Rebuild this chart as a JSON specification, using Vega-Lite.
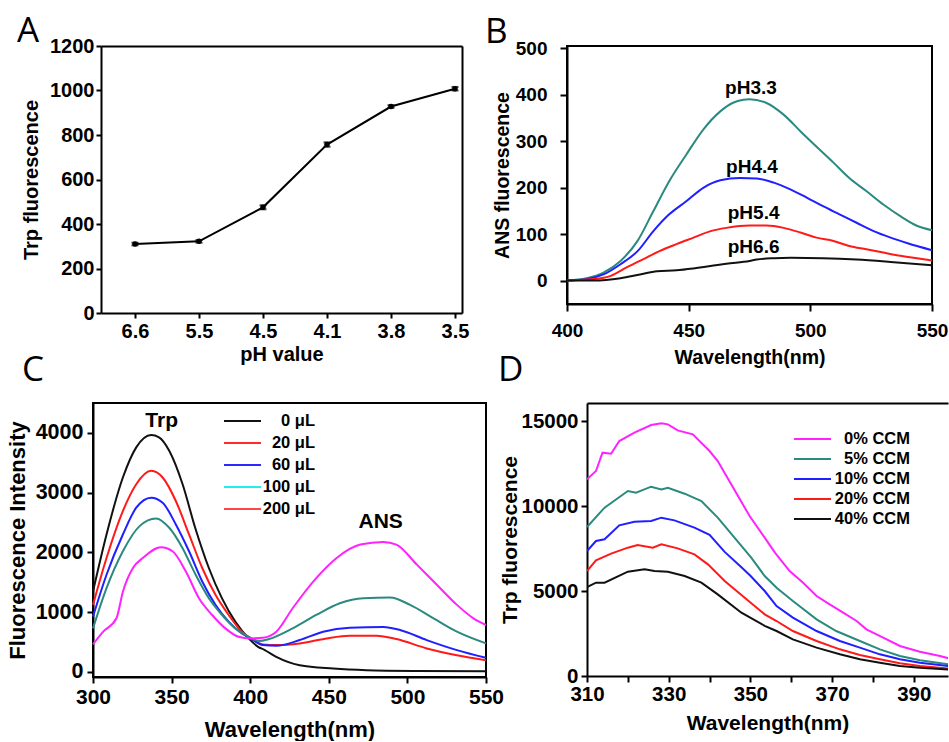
{
  "$schema": "https://vega.github.io/schema/vega-lite/v6.json",
  "background": "white",
  "padding": {"left": 5, "top": 13, "right": 0, "bottom": 0},
  "config": {
    "font": "Liberation Sans",
    "view": {"stroke": "black", "strokeWidth": 2},
    "axis": {"grid": false, "domainColor": "black", "domainWidth": 2, "tickColor": "black", "tickWidth": 2, "labelColor": "black", "titleColor": "black", "labelFontWeight": "bold", "titleFontWeight": "bold", "labelFont": "Liberation Sans", "titleFont": "Liberation Sans", "labelFlush": false, "labelOverlap": false},
    "legend": {"padding": 0, "titlePadding": 0},
    "title": {"font": "Open Sans", "fontSize": 35, "fontWeight": "normal", "anchor": "start", "frame": "group", "baseline": "alphabetic", "color": "black"},
    "text": {"font": "Liberation Sans"}
  },
  "datasets": {
    "aData": [
      {"pH": "6.6", "pos": 0, "trp": 310, "err": 6},
      {"pH": "5.5", "pos": 1, "trp": 322, "err": 6},
      {"pH": "4.5", "pos": 2, "trp": 475, "err": 9},
      {"pH": "4.1", "pos": 3, "trp": 757, "err": 10},
      {"pH": "3.8", "pos": 4, "trp": 928, "err": 6},
      {"pH": "3.5", "pos": 5, "trp": 1008, "err": 8}
    ],
    "bData": [
      {"s":"pH3.3","w":400,"v":1},{"s":"pH3.3","w":408,"v":6},{"s":"pH3.3","w":415,"v":18},{"s":"pH3.3","w":422,"v":43},{"s":"pH3.3","w":429,"v":86},{"s":"pH3.3","w":435.5,"v":150},{"s":"pH3.3","w":442,"v":214},{"s":"pH3.3","w":449,"v":271},{"s":"pH3.3","w":456,"v":325},{"s":"pH3.3","w":463,"v":364},{"s":"pH3.3","w":468,"v":382},{"s":"pH3.3","w":472.5,"v":389},{"s":"pH3.3","w":475,"v":390},{"s":"pH3.3","w":482,"v":382},{"s":"pH3.3","w":489,"v":357},{"s":"pH3.3","w":496,"v":321},{"s":"pH3.3","w":503,"v":286},{"s":"pH3.3","w":509.5,"v":254},{"s":"pH3.3","w":516,"v":221},{"s":"pH3.3","w":523,"v":193},{"s":"pH3.3","w":530,"v":164},{"s":"pH3.3","w":537,"v":139},{"s":"pH3.3","w":544,"v":118},{"s":"pH3.3","w":550,"v":109},
      {"s":"pH4.4","w":400,"v":1},{"s":"pH4.4","w":408,"v":4},{"s":"pH4.4","w":415,"v":14},{"s":"pH4.4","w":422,"v":36},{"s":"pH4.4","w":429,"v":64},{"s":"pH4.4","w":435.5,"v":107},{"s":"pH4.4","w":442,"v":143},{"s":"pH4.4","w":449,"v":171},{"s":"pH4.4","w":456,"v":200},{"s":"pH4.4","w":463,"v":216},{"s":"pH4.4","w":471,"v":221},{"s":"pH4.4","w":478,"v":220},{"s":"pH4.4","w":485,"v":211},{"s":"pH4.4","w":492,"v":196},{"s":"pH4.4","w":498.5,"v":179},{"s":"pH4.4","w":505,"v":161},{"s":"pH4.4","w":512,"v":143},{"s":"pH4.4","w":519,"v":125},{"s":"pH4.4","w":526,"v":107},{"s":"pH4.4","w":533,"v":93},{"s":"pH4.4","w":540,"v":81},{"s":"pH4.4","w":550,"v":66},
      {"s":"pH5.4","w":400,"v":1},{"s":"pH5.4","w":411,"v":4},{"s":"pH5.4","w":418,"v":11},{"s":"pH5.4","w":424.5,"v":29},{"s":"pH5.4","w":431,"v":46},{"s":"pH5.4","w":438,"v":64},{"s":"pH5.4","w":445,"v":79},{"s":"pH5.4","w":452,"v":93},{"s":"pH5.4","w":459,"v":107},{"s":"pH5.4","w":465.5,"v":114},{"s":"pH5.4","w":475,"v":119},{"s":"pH5.4","w":482,"v":119},{"s":"pH5.4","w":489,"v":114},{"s":"pH5.4","w":496,"v":104},{"s":"pH5.4","w":502.5,"v":93},{"s":"pH5.4","w":509.5,"v":86},{"s":"pH5.4","w":516,"v":75},{"s":"pH5.4","w":523,"v":68},{"s":"pH5.4","w":530,"v":61},{"s":"pH5.4","w":537,"v":54},{"s":"pH5.4","w":550,"v":44},
      {"s":"pH6.6","w":400,"v":1},{"s":"pH6.6","w":411,"v":1},{"s":"pH6.6","w":422,"v":6},{"s":"pH6.6","w":430,"v":14},{"s":"pH6.6","w":437,"v":21},{"s":"pH6.6","w":445,"v":23},{"s":"pH6.6","w":452,"v":27},{"s":"pH6.6","w":459,"v":32},{"s":"pH6.6","w":465.5,"v":37},{"s":"pH6.6","w":475,"v":43},{"s":"pH6.6","w":478,"v":46},{"s":"pH6.6","w":485,"v":49},{"s":"pH6.6","w":492,"v":50},{"s":"pH6.6","w":505,"v":49},{"s":"pH6.6","w":519,"v":46},{"s":"pH6.6","w":533,"v":41},{"s":"pH6.6","w":550,"v":34}
    ],
    "bLabels": [
      {"s":"pH3.3","w":475.6,"v":414},{"s":"pH4.4","w":476,"v":245},{"s":"pH5.4","w":476.7,"v":146},{"s":"pH6.6","w":476.7,"v":73}
    ],
    "cData": [
      {"s":"0 μL","w":300,"v":1346},{"s":"0 μL","w":308.6,"v":2300},{"s":"0 μL","w":319,"v":3253},{"s":"0 μL","w":327.5,"v":3758},{"s":"0 μL","w":337,"v":3965},{"s":"0 μL","w":342,"v":3926},{"s":"0 μL","w":348.5,"v":3702},{"s":"0 μL","w":357,"v":3141},{"s":"0 μL","w":365,"v":2412},{"s":"0 μL","w":373.7,"v":1739},{"s":"0 μL","w":382,"v":1234},{"s":"0 μL","w":390.5,"v":841},{"s":"0 μL","w":399,"v":561},{"s":"0 μL","w":405,"v":420},{"s":"0 μL","w":409,"v":370},{"s":"0 μL","w":416.6,"v":252},{"s":"0 μL","w":431.5,"v":112},{"s":"0 μL","w":452.8,"v":56},{"s":"0 μL","w":474,"v":28},{"s":"0 μL","w":506,"v":15},{"s":"0 μL","w":550,"v":10},
      {"s":"20 μL","w":300,"v":1122},{"s":"20 μL","w":308.6,"v":1907},{"s":"20 μL","w":319,"v":2692},{"s":"20 μL","w":327.5,"v":3141},{"s":"20 μL","w":337,"v":3365},{"s":"20 μL","w":344.3,"v":3253},{"s":"20 μL","w":352.7,"v":2860},{"s":"20 μL","w":361.1,"v":2300},{"s":"20 μL","w":369.5,"v":1739},{"s":"20 μL","w":377.9,"v":1290},{"s":"20 μL","w":386.3,"v":953},{"s":"20 μL","w":394.7,"v":673},{"s":"20 μL","w":401,"v":550},{"s":"20 μL","w":408,"v":460},{"s":"20 μL","w":416.6,"v":449},{"s":"20 μL","w":431.5,"v":477},{"s":"20 μL","w":448.5,"v":561},{"s":"20 μL","w":463.4,"v":606},{"s":"20 μL","w":480.4,"v":606},{"s":"20 μL","w":493,"v":550},{"s":"20 μL","w":512.3,"v":393},{"s":"20 μL","w":531.5,"v":280},{"s":"20 μL","w":550,"v":196},
      {"s":"60 μL","w":300,"v":925},{"s":"60 μL","w":308.6,"v":1626},{"s":"60 μL","w":319,"v":2300},{"s":"60 μL","w":327.5,"v":2748},{"s":"60 μL","w":337,"v":2916},{"s":"60 μL","w":344.3,"v":2832},{"s":"60 μL","w":352.7,"v":2468},{"s":"60 μL","w":361.1,"v":2019},{"s":"60 μL","w":369.5,"v":1514},{"s":"60 μL","w":377.9,"v":1122},{"s":"60 μL","w":386.3,"v":841},{"s":"60 μL","w":394.7,"v":645},{"s":"60 μL","w":401,"v":550},{"s":"60 μL","w":408,"v":449},{"s":"60 μL","w":416.6,"v":437},{"s":"60 μL","w":431.5,"v":533},{"s":"60 μL","w":446.4,"v":673},{"s":"60 μL","w":463.4,"v":740},{"s":"60 μL","w":484.7,"v":752},{"s":"60 μL","w":495.3,"v":701},{"s":"60 μL","w":512.3,"v":533},{"s":"60 μL","w":531.5,"v":365},{"s":"60 μL","w":550,"v":236},
      {"s":"100 μL","w":300,"v":729},{"s":"100 μL","w":308.6,"v":1402},{"s":"100 μL","w":319,"v":2019},{"s":"100 μL","w":329.6,"v":2440},{"s":"100 μL","w":340.1,"v":2569},{"s":"100 μL","w":348.5,"v":2412},{"s":"100 μL","w":356.9,"v":2075},{"s":"100 μL","w":365.3,"v":1626},{"s":"100 μL","w":373.7,"v":1234},{"s":"100 μL","w":382.1,"v":953},{"s":"100 μL","w":390.5,"v":729},{"s":"100 μL","w":398.9,"v":589},{"s":"100 μL","w":401,"v":560},{"s":"100 μL","w":406,"v":516},{"s":"100 μL","w":412,"v":550},{"s":"100 μL","w":427,"v":729},{"s":"100 μL","w":442,"v":953},{"s":"100 μL","w":457,"v":1150},{"s":"100 μL","w":472,"v":1234},{"s":"100 μL","w":489,"v":1245},{"s":"100 μL","w":501.7,"v":1122},{"s":"100 μL","w":516.6,"v":897},{"s":"100 μL","w":531.5,"v":673},{"s":"100 μL","w":550,"v":477},
      {"s":"200 μL","w":300,"v":460},{"s":"200 μL","w":306.5,"v":673},{"s":"200 μL","w":314.9,"v":897},{"s":"200 μL","w":319.1,"v":1350},{"s":"200 μL","w":325.4,"v":1740},{"s":"200 μL","w":331.7,"v":1907},{"s":"200 μL","w":343.3,"v":2086},{"s":"200 μL","w":350.6,"v":2019},{"s":"200 μL","w":359,"v":1683},{"s":"200 μL","w":367.4,"v":1234},{"s":"200 μL","w":375.8,"v":953},{"s":"200 μL","w":384.2,"v":729},{"s":"200 μL","w":392.6,"v":589},{"s":"200 μL","w":400,"v":561},{"s":"200 μL","w":408,"v":572},{"s":"200 μL","w":416.6,"v":673},{"s":"200 μL","w":427,"v":1066},{"s":"200 μL","w":442,"v":1570},{"s":"200 μL","w":455,"v":1907},{"s":"200 μL","w":470,"v":2131},{"s":"200 μL","w":484.7,"v":2176},{"s":"200 μL","w":493,"v":2131},{"s":"200 μL","w":506,"v":1795},{"s":"200 μL","w":518.7,"v":1458},{"s":"200 μL","w":531.5,"v":1122},{"s":"200 μL","w":542,"v":897},{"s":"200 μL","w":550,"v":785}
    ],
    "cLabels": [
      {"t":"Trp","w":343.7,"v":4197},{"t":"ANS","w":483,"v":2513}
    ],
    "dData": [
      {"s":"0% CCM","w":310,"v":11569},{"s":"0% CCM","w":312.2,"v":12059},{"s":"0% CCM","w":313.8,"v":13137},{"s":"0% CCM","w":315.9,"v":13078},{"s":"0% CCM","w":317.9,"v":13824},{"s":"0% CCM","w":321.6,"v":14314},{"s":"0% CCM","w":325.7,"v":14765},{"s":"0% CCM","w":328.2,"v":14863},{"s":"0% CCM","w":329.8,"v":14804},{"s":"0% CCM","w":332.2,"v":14451},{"s":"0% CCM","w":335.9,"v":14216},{"s":"0% CCM","w":340,"v":13235},{"s":"0% CCM","w":342,"v":12647},{"s":"0% CCM","w":345.3,"v":11275},{"s":"0% CCM","w":349.8,"v":9412},{"s":"0% CCM","w":353.5,"v":8137},{"s":"0% CCM","w":356,"v":7255},{"s":"0% CCM","w":359.6,"v":6176},{"s":"0% CCM","w":362.9,"v":5490},{"s":"0% CCM","w":366.2,"v":4706},{"s":"0% CCM","w":369.4,"v":4216},{"s":"0% CCM","w":372.7,"v":3725},{"s":"0% CCM","w":376,"v":3235},{"s":"0% CCM","w":378.4,"v":2745},{"s":"0% CCM","w":382.5,"v":2255},{"s":"0% CCM","w":386.6,"v":1765},{"s":"0% CCM","w":391.5,"v":1431},{"s":"0% CCM","w":396.4,"v":1176},{"s":"0% CCM","w":398.6,"v":1039},
      {"s":"5% CCM","w":310,"v":8765},{"s":"5% CCM","w":314.3,"v":9902},{"s":"5% CCM","w":320,"v":10882},{"s":"5% CCM","w":322,"v":10784},{"s":"5% CCM","w":325.7,"v":11137},{"s":"5% CCM","w":328.2,"v":10980},{"s":"5% CCM","w":329.8,"v":11078},{"s":"5% CCM","w":333.9,"v":10725},{"s":"5% CCM","w":338,"v":10294},{"s":"5% CCM","w":342,"v":9314},{"s":"5% CCM","w":346.1,"v":8137},{"s":"5% CCM","w":350.2,"v":6961},{"s":"5% CCM","w":353.5,"v":5882},{"s":"5% CCM","w":356.4,"v":5196},{"s":"5% CCM","w":360.4,"v":4412},{"s":"5% CCM","w":366.2,"v":3333},{"s":"5% CCM","w":371,"v":2647},{"s":"5% CCM","w":376.8,"v":2059},{"s":"5% CCM","w":381.7,"v":1569},{"s":"5% CCM","w":386.6,"v":1176},{"s":"5% CCM","w":391.5,"v":922},{"s":"5% CCM","w":398.6,"v":686},
      {"s":"10% CCM","w":310,"v":7353},{"s":"10% CCM","w":312.2,"v":7941},{"s":"10% CCM","w":314.3,"v":8039},{"s":"10% CCM","w":317.9,"v":8863},{"s":"10% CCM","w":321.6,"v":9078},{"s":"10% CCM","w":325.7,"v":9118},{"s":"10% CCM","w":328.2,"v":9314},{"s":"10% CCM","w":331.4,"v":9157},{"s":"10% CCM","w":336.3,"v":8725},{"s":"10% CCM","w":340,"v":8300},{"s":"10% CCM","w":343.7,"v":7300},{"s":"10% CCM","w":347.8,"v":6400},{"s":"10% CCM","w":350,"v":5900},{"s":"10% CCM","w":353.5,"v":5000},{"s":"10% CCM","w":356.4,"v":4118},{"s":"10% CCM","w":360.4,"v":3431},{"s":"10% CCM","w":366.2,"v":2647},{"s":"10% CCM","w":371.9,"v":2059},{"s":"10% CCM","w":376.8,"v":1667},{"s":"10% CCM","w":381.7,"v":1275},{"s":"10% CCM","w":386.6,"v":980},{"s":"10% CCM","w":391.5,"v":784},{"s":"10% CCM","w":398.6,"v":588},
      {"s":"20% CCM","w":310,"v":6176},{"s":"20% CCM","w":312.2,"v":6804},{"s":"20% CCM","w":315.9,"v":7196},{"s":"20% CCM","w":320,"v":7549},{"s":"20% CCM","w":322.4,"v":7706},{"s":"20% CCM","w":326.1,"v":7549},{"s":"20% CCM","w":328.2,"v":7745},{"s":"20% CCM","w":332.2,"v":7510},{"s":"20% CCM","w":336.3,"v":7157},{"s":"20% CCM","w":339.6,"v":6569},{"s":"20% CCM","w":343.7,"v":5588},{"s":"20% CCM","w":348.6,"v":4600},{"s":"20% CCM","w":353.5,"v":3627},{"s":"20% CCM","w":356.4,"v":3235},{"s":"20% CCM","w":360.4,"v":2647},{"s":"20% CCM","w":366.2,"v":2059},{"s":"20% CCM","w":371.9,"v":1569},{"s":"20% CCM","w":376.8,"v":1235},{"s":"20% CCM","w":381.7,"v":980},{"s":"20% CCM","w":386.6,"v":745},{"s":"20% CCM","w":391.5,"v":588},{"s":"20% CCM","w":398.6,"v":431},
      {"s":"40% CCM","w":310,"v":5235},{"s":"40% CCM","w":312.2,"v":5490},{"s":"40% CCM","w":314.3,"v":5490},{"s":"40% CCM","w":320,"v":6137},{"s":"40% CCM","w":324.1,"v":6275},{"s":"40% CCM","w":326.5,"v":6176},{"s":"40% CCM","w":329.8,"v":6137},{"s":"40% CCM","w":333.9,"v":5882},{"s":"40% CCM","w":338,"v":5490},{"s":"40% CCM","w":342,"v":4804},{"s":"40% CCM","w":347.8,"v":3725},{"s":"40% CCM","w":353.5,"v":2950},{"s":"40% CCM","w":356.4,"v":2647},{"s":"40% CCM","w":360.4,"v":2157},{"s":"40% CCM","w":366.2,"v":1667},{"s":"40% CCM","w":371.9,"v":1275},{"s":"40% CCM","w":376.8,"v":980},{"s":"40% CCM","w":381.7,"v":784},{"s":"40% CCM","w":386.6,"v":588},{"s":"40% CCM","w":391.5,"v":490},{"s":"40% CCM","w":398.6,"v":373}
    ]
  },
  "spacing": -16,
  "resolve": {"scale": {"color": "independent", "stroke": "independent"}},
  "vconcat": [
    {
      "spacing": 105,
      "bounds": "flush",
      "resolve": {"scale": {"color": "independent", "stroke": "independent"}},
      "hconcat": [
        {
          "width": 369, "height": 267,
          "view": {"stroke": null},
          "title": {"text": "A", "dx": -76, "offset": -13},
          "data": {"name": "aData"},
          "resolve": {"axis": {"x": "independent", "y": "independent"}},
          "layer": [
            {
              "layer": [
                {
                  "mark": {"type": "line", "color": "black", "strokeWidth": 2},
                  "encoding": {
                    "x": {"field": "pos", "type": "quantitative", "title": "pH value", "scale": {"domain": [-0.531, 5.109], "range": [8, 369], "nice": false, "zero": false},
                      "axis": {"values": [0, 1, 2, 3, 4, 5], "labelExpr": "['6.6','5.5','4.5','4.1','3.8','3.5'][datum.value]", "labelFontSize": 20, "titleFontSize": 20, "tickSize": 5, "labelPadding": 3.5, "titlePadding": 3}},
                    "y": {"field": "trp", "type": "quantitative", "title": "Trp fluorescence", "scale": {"domain": [0, 1200], "nice": false},
                      "axis": {"values": [0, 200, 400, 600, 800, 1000, 1200], "format": "d", "offset": -8, "labelFontSize": 20, "titleFontSize": 20, "tickSize": 5, "labelPadding": 2, "titlePadding": 8}}
                  }
                },
                {
                  "mark": {"type": "point", "filled": true, "color": "black", "size": 30, "opacity": 1},
                  "encoding": {
                    "x": {"field": "pos", "type": "quantitative", "title": "pH value"},
                    "y": {"field": "trp", "type": "quantitative", "title": "Trp fluorescence"}
                  }
                },
                {
                  "mark": {"type": "errorbar", "ticks": true, "size": 7, "thickness": 2, "color": "black"},
                  "encoding": {
                    "x": {"field": "pos", "type": "quantitative", "title": "pH value"},
                    "y": {"field": "trp", "type": "quantitative", "title": "Trp fluorescence"},
                    "yError": {"field": "err"}
                  }
                }
              ]
            },
            {
              "mark": {"type": "line", "opacity": 0},
              "encoding": {
                "x": {"field": "pos", "type": "quantitative", "title": null, "axis": {"orient": "top", "labels": false, "ticks": false, "title": null, "domain": true}},
                "y": {"field": "trp", "type": "quantitative", "title": null, "axis": {"orient": "right", "labels": false, "ticks": false, "title": null, "domain": true}}
              }
            }
          ]
        },
        {
          "width": 365, "height": 258,
          "title": {"text": "B", "dx": -82, "offset": -10.5},
          "layer": [
            {
              "data": {"name": "bData"},
              "mark": {"type": "line", "strokeWidth": 2, "interpolate": "monotone"},
              "encoding": {
                "x": {"field": "w", "type": "quantitative", "title": "Wavelength(nm)", "scale": {"domain": [400, 550], "nice": false, "zero": false},
                  "axis": {"values": [400, 450, 500, 550], "labelFontSize": 19, "titleFontSize": 19.5, "tickSize": 7, "labelPadding": 10, "titlePadding": 8}},
                "y": {"field": "v", "type": "quantitative", "title": "ANS fluorescence", "scale": {"domain": [-49.4, 504.3], "nice": false, "zero": false},
                  "axis": {"values": [0, 100, 200, 300, 400, 500], "format": "d", "labelFontSize": 19, "titleFontSize": 19.5, "tickSize": 7, "labelPadding": 13, "titlePadding": 3}},
                "color": {"field": "s", "type": "nominal", "scale": {"domain": ["pH3.3", "pH4.4", "pH5.4", "pH6.6"], "range": ["#2a8a80", "#1f1fff", "#ff1a1a", "#111111"]}, "legend": null}
              }
            },
            {
              "data": {"name": "bLabels"},
              "mark": {"type": "text", "fontSize": 19, "fontWeight": "bold", "color": "black", "align": "center", "baseline": "middle"},
              "encoding": {
                "x": {"field": "w", "type": "quantitative", "title": "Wavelength(nm)"},
                "y": {"field": "v", "type": "quantitative", "title": "ANS fluorescence"},
                "text": {"field": "s"}
              }
            }
          ]
        }
      ]
    },
    {
      "spacing": 101,
      "bounds": "flush",
      "resolve": {"scale": {"color": "independent", "stroke": "independent"}},
      "hconcat": [
        {
          "width": 393, "height": 274,
          "title": {"text": "C", "dx": -71, "offset": 15},
          "layer": [
            {
              "data": {"name": "cData"},
              "transform": [{"filter": "datum.w < 0"}],
              "mark": {"type": "line", "strokeWidth": 2},
              "encoding": {
                "x": {"field": "w", "type": "quantitative", "title": "Wavelength(nm)", "scale": {"domain": [300, 550], "nice": false, "zero": false},
                  "axis": {"values": [300, 350, 400, 450, 500, 550], "labelFontSize": 21, "titleFontSize": 22, "tickSize": 6, "labelPadding": 3.5, "titlePadding": 11.5}},
                "y": {"field": "v", "type": "quantitative", "title": "Fluorescence Intensity", "scale": {"domain": [-85, 4500], "nice": false, "zero": false},
                  "axis": {"values": [0, 1000, 2000, 3000, 4000], "format": "d", "labelFontSize": 21.5, "titleFontSize": 22, "tickSize": 6, "labelPadding": 4, "titlePadding": 6}},
                "stroke": {"field": "s", "type": "nominal", "scale": {"domain": ["0 μL", "20 μL", "60 μL", "100 μL", "200 μL"], "range": ["#111111", "#ff2a2a", "#2a2aff", "#22eeee", "#ff4444"]},
                  "legend": {"orient": "none", "legendX": 130, "legendY": 7, "title": null, "symbolType": "stroke", "symbolSize": 1369, "symbolStrokeWidth": 2, "symbolOpacity": 1, "clipHeight": 22, "rowPadding": 0, "labelFontSize": 16.5, "labelFontWeight": "bold", "labelFont": "Liberation Sans", "labelColor": "black", "labelAlign": "right", "labelOffset": 53}}
              }
            },
            {
              "data": {"name": "cData"},
              "mark": {"type": "line", "strokeWidth": 2, "interpolate": "monotone"},
              "encoding": {
                "x": {"field": "w", "type": "quantitative", "title": "Wavelength(nm)"},
                "y": {"field": "v", "type": "quantitative", "title": "Fluorescence Intensity"},
                "color": {"field": "s", "type": "nominal", "scale": {"domain": ["0 μL", "20 μL", "60 μL", "100 μL", "200 μL"], "range": ["#111111", "#ff1a1a", "#1f1fff", "#2a8a80", "#ff22ff"]}, "legend": null}
              }
            },
            {
              "data": {"name": "cLabels"},
              "mark": {"type": "text", "fontSize": 21, "fontWeight": "bold", "color": "black", "align": "center", "baseline": "middle"},
              "encoding": {
                "x": {"field": "w", "type": "quantitative", "title": "Wavelength(nm)"},
                "y": {"field": "v", "type": "quantitative", "title": "Fluorescence Intensity"},
                "text": {"field": "t"}
              }
            }
          ]
        },
        {
          "width": 361, "height": 273,
          "view": {"stroke": null},
          "title": {"text": "D", "dx": -89, "offset": 15},
          "data": {"name": "dData"},
          "resolve": {"axis": {"x": "independent"}},
          "layer": [
            {
              "mark": {"type": "line", "strokeWidth": 2, "clip": true},
              "encoding": {
                "x": {"field": "w", "type": "quantitative", "title": "Wavelength(nm)", "scale": {"domain": [310, 398.37], "nice": false, "zero": false},
                  "axis": {"values": [310, 320, 330, 340, 350, 360, 370, 380, 390], "labelExpr": "(datum.value - 310) % 20 == 0 ? datum.label : ''", "labelFontSize": 20.5, "titleFontSize": 21, "tickSize": 6, "labelPadding": 2.5, "titlePadding": 7}},
                "y": {"field": "v", "type": "quantitative", "title": "Trp fluorescence", "scale": {"domain": [0, 16060], "nice": false, "zero": false},
                  "axis": {"values": [0, 5000, 10000, 15000], "format": "d", "labelFontSize": 20.5, "titleFontSize": 21, "tickSize": 6, "labelPadding": 3, "titlePadding": 0}},
                "color": {"field": "s", "type": "nominal", "scale": {"domain": ["0% CCM", "5% CCM", "10% CCM", "20% CCM", "40% CCM"], "range": ["#ff22ff", "#2a8a80", "#1f1fff", "#ff1a1a", "#111111"]},
                  "legend": {"orient": "none", "legendX": 206, "legendY": 26, "title": null, "symbolType": "stroke", "symbolSize": 1369, "symbolStrokeWidth": 2, "clipHeight": 20, "rowPadding": 0, "labelFontSize": 16.5, "labelFontWeight": "bold", "labelFont": "Liberation Sans", "labelColor": "black", "labelAlign": "right", "labelOffset": 78}}
              }
            },
            {
              "mark": {"type": "line", "opacity": 0},
              "encoding": {
                "x": {"field": "w", "type": "quantitative", "title": null, "axis": {"orient": "top", "labels": false, "ticks": false, "title": null, "domain": true}},
                "y": {"field": "v", "type": "quantitative", "title": "Trp fluorescence"}
              }
            }
          ]
        }
      ]
    }
  ]
}
